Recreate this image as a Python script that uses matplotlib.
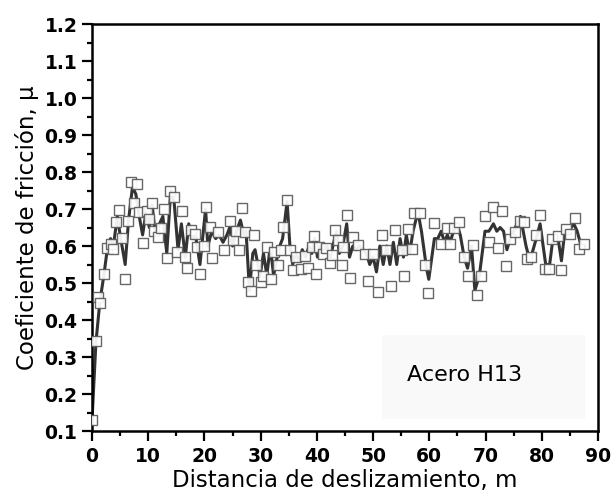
import matplotlib
matplotlib.use("Agg")
import matplotlib.pyplot as plt
from matplotlib.patches import Rectangle
from matplotlib.ticker import MultipleLocator

# ---- data ----
sq_x = [0.0, 0.7, 1.0, 1.5, 2.1, 2.7, 3.3, 3.7, 4.3, 4.8, 5.4, 5.9, 6.4, 6.9, 7.5, 8.0, 8.4,
        9.1, 9.7, 10.1, 10.7, 11.0, 11.7, 12.2, 12.8, 13.3, 13.9, 14.5, 15.1, 15.95, 16.6,
        16.9, 17.55, 18.3, 18.7, 19.2, 19.9, 20.2, 20.9, 21.3, 22.4, 23.5, 24.5, 25.0, 25.7,
        26.1, 26.7, 27.3, 27.7, 28.2, 28.8, 29.2, 30.1, 30.5, 31.1, 31.8, 32.4, 33.1, 33.6,
        34.0, 34.7, 35.2, 35.8, 36.2, 37.2, 37.9, 38.4, 39.1, 39.5, 39.9, 40.4, 41.1, 41.6,
        42.3, 42.7, 43.2, 43.7, 44.4, 44.7, 45.4, 45.9, 46.4, 47.4, 48.6, 49.1, 50.0, 50.8,
        51.5, 52.3, 53.1, 53.9, 55.1, 55.5, 56.2, 57.0, 57.3, 58.3, 59.2, 59.8, 60.8, 62.1,
        63.1, 63.7, 64.3, 65.3, 66.2, 66.8, 67.7, 68.4, 69.2, 69.9, 70.7, 71.4, 72.2, 73.0,
        73.6, 74.3, 75.2, 76.1, 76.9, 77.4, 78.1, 79.0, 79.7, 80.5, 81.3, 81.9, 82.8, 83.5,
        84.3, 85.1, 85.9, 86.6, 87.6]
sq_y = [0.13, 0.343, 0.463, 0.445, 0.524, 0.595, 0.605, 0.593, 0.664, 0.697, 0.621, 0.51,
        0.667, 0.773, 0.715, 0.768, 0.691, 0.609, 0.695, 0.673, 0.715, 0.64, 0.625, 0.65,
        0.70, 0.568, 0.749, 0.733, 0.583, 0.695, 0.569, 0.54, 0.643, 0.632, 0.598, 0.524,
        0.60, 0.706, 0.652, 0.568, 0.639, 0.589, 0.668, 0.616, 0.64, 0.589, 0.703, 0.637,
        0.503, 0.478, 0.63, 0.549, 0.503, 0.52, 0.596, 0.51, 0.585, 0.55, 0.589, 0.652,
        0.724, 0.589, 0.535, 0.571, 0.537, 0.573, 0.54, 0.598, 0.627, 0.524, 0.598, 0.578,
        0.594, 0.553, 0.576, 0.643, 0.616, 0.549, 0.598, 0.684, 0.514, 0.625, 0.603, 0.578,
        0.505, 0.578, 0.476, 0.63, 0.589, 0.493, 0.643, 0.589, 0.52, 0.646, 0.591, 0.688,
        0.69, 0.549, 0.472, 0.663, 0.605, 0.648, 0.605, 0.648, 0.666, 0.571, 0.52, 0.603,
        0.468, 0.52, 0.682, 0.612, 0.705, 0.594, 0.695, 0.546, 0.618, 0.639, 0.668, 0.666,
        0.564, 0.569, 0.63, 0.684, 0.537, 0.537, 0.618, 0.627, 0.535, 0.645, 0.632, 0.675,
        0.591, 0.605]

line_x = [0.0, 0.7, 1.4, 2.1, 2.7, 3.3, 3.8, 4.5, 5.0, 5.9, 6.5, 7.2, 7.8, 8.4, 9.0, 9.6,
          10.2, 10.7, 11.2, 12.0, 12.6, 13.3, 14.0, 14.6, 15.3, 15.9, 16.6, 17.2, 17.9, 18.4,
          19.2, 20.2, 20.6, 21.3, 22.0, 22.6, 23.3, 24.0, 24.5, 25.0, 25.7, 26.4, 27.0, 27.4,
          28.0, 28.6, 29.0, 29.5, 29.9, 30.5, 31.1, 31.7, 32.3, 32.8, 33.4, 33.9, 34.7, 35.2,
          35.7, 36.2, 36.8, 37.4, 38.0, 38.6, 39.1, 39.6, 40.1, 40.6, 41.2, 41.8, 42.4, 43.0,
          43.5, 44.0, 44.6, 45.3, 45.8, 46.4, 47.0, 47.6, 48.2, 48.8, 49.4, 50.0, 50.6, 51.2,
          51.8, 52.4, 53.0, 53.6, 54.2, 54.8, 55.4, 55.9, 56.5, 57.1, 57.6, 58.0, 58.6, 59.5,
          59.9, 60.9, 61.5, 62.1, 62.7, 63.2, 63.7, 64.3, 64.9, 65.5, 66.2, 66.8, 67.5, 68.1,
          68.9, 69.9, 70.6, 71.4, 72.0, 72.6, 73.2, 73.8, 74.4, 75.0, 75.6, 76.2, 77.2, 77.9,
          79.2, 79.7, 80.7, 81.4, 81.9, 82.5, 83.0, 83.5, 84.1, 84.8, 85.7, 86.3, 87.0, 87.6]
line_y = [0.13, 0.34, 0.45, 0.52, 0.59, 0.62, 0.60, 0.68, 0.63, 0.55, 0.67, 0.76, 0.74, 0.68,
          0.63, 0.69, 0.65, 0.71, 0.64, 0.66, 0.68, 0.58, 0.75, 0.72, 0.59, 0.66, 0.57, 0.66,
          0.62, 0.63, 0.55, 0.70, 0.60, 0.64, 0.62, 0.63, 0.61, 0.63, 0.65, 0.60, 0.64, 0.67,
          0.63, 0.64, 0.48, 0.58, 0.59, 0.55, 0.52, 0.58, 0.52, 0.60, 0.52, 0.56, 0.60, 0.62,
          0.72, 0.60, 0.55, 0.58, 0.56, 0.59, 0.57, 0.60, 0.58, 0.62, 0.57, 0.60, 0.58, 0.60,
          0.57, 0.61, 0.64, 0.58, 0.60, 0.66, 0.57, 0.60, 0.59, 0.60, 0.59, 0.58, 0.55, 0.57,
          0.53, 0.60, 0.55, 0.60, 0.55, 0.61, 0.55, 0.62, 0.57, 0.63, 0.58, 0.64, 0.67, 0.69,
          0.64, 0.54, 0.51, 0.62, 0.62, 0.64, 0.61, 0.63, 0.61, 0.64, 0.66, 0.63, 0.57, 0.54,
          0.60, 0.48, 0.52, 0.64, 0.64, 0.66, 0.64, 0.65, 0.64, 0.59, 0.62, 0.64, 0.66, 0.68,
          0.60, 0.56, 0.63, 0.66, 0.55, 0.55, 0.61, 0.62, 0.61, 0.56, 0.64, 0.64, 0.66, 0.64,
          0.60, 0.60]

x_ticks = [0, 10, 20, 30, 40, 50, 60, 70, 80, 90]
y_ticks = [0.1, 0.2, 0.3, 0.4, 0.5, 0.6, 0.7, 0.8, 0.9, 1.0, 1.1, 1.2]
x_label = "Distancia de deslizamiento, m"
y_label = "Coeficiente de fricción, μ"
inset_text = "Acero H13"

# ---- figure ----
plt.rcParams['font.family'] = ['DejaVu Sans']
fig = plt.figure(figsize=(6.11, 4.96), dpi=100)
ax = fig.add_axes([0.1506, 0.1310, 0.8281, 0.8206])

ax.plot(line_x, line_y, color='#333333', lw=2.2, zorder=2)
ax.plot(sq_x, sq_y, linestyle='none', marker='s', markersize=7.8,
        markerfacecolor='white', markeredgecolor='#5a5a5a', markeredgewidth=1.0,
        alpha=0.92, zorder=3)

ax.set_xlim(0, 90)
ax.set_ylim(0.1, 1.2)
ax.set_xticks(x_ticks)
ax.set_yticks(y_ticks)
ax.set_xticklabels([str(t) for t in x_ticks])
ax.set_yticklabels([f"{t:.1f}" for t in y_ticks])
ax.xaxis.set_minor_locator(MultipleLocator(5))
ax.yaxis.set_minor_locator(MultipleLocator(0.05))

for s in ax.spines.values():
    s.set_linewidth(1.8)
    s.set_color('black')

ax.tick_params(axis='both', which='major', direction='out', length=7, width=1.6,
               labelsize=13.5, top=False, right=False)
ax.tick_params(axis='both', which='minor', direction='out', length=3.8, width=1.6,
               top=False, right=False)
ax.tick_params(axis='y', which='major', pad=3.5)
ax.tick_params(axis='x', which='major', pad=4.5)
for lab in ax.get_xticklabels() + ax.get_yticklabels():
    lab.set_fontweight('bold')

ax.set_xlabel(x_label, fontsize=16.5, labelpad=2)
ax.set_ylabel(y_label, fontsize=16.5, labelpad=4)

# inset label box
box = Rectangle((0.573, 0.03), 0.401, 0.207, transform=ax.transAxes,
                facecolor='#f9f9f9', edgecolor='none', zorder=1)
ax.add_patch(box)
ax.text(0.622, 0.138, inset_text, transform=ax.transAxes, fontsize=16,
        ha='left', va='center', zorder=4)

fig.savefig("out.png", dpi=100)
